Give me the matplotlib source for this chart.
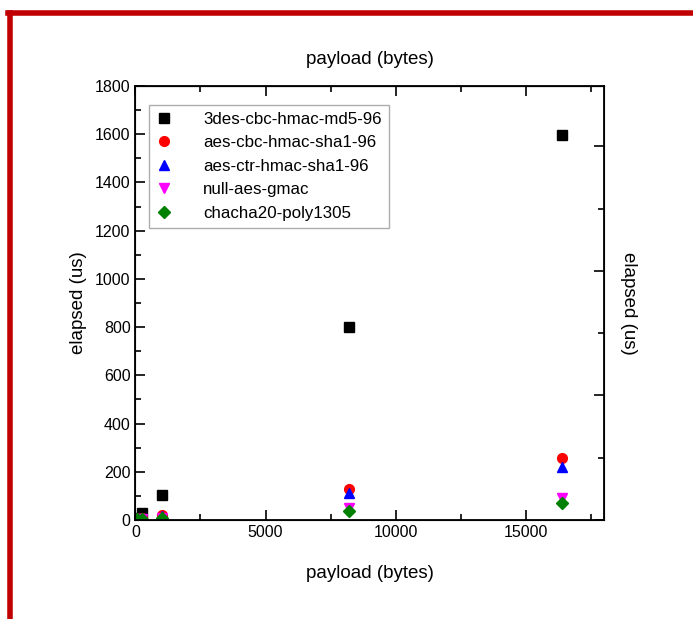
import matplotlib
matplotlib.use("Agg")
import numpy as np
from matplotlib import pyplot as plt
from matplotlib.lines import Line2D
from matplotlib.ticker import MultipleLocator

plt.rcParams['font.family'] = ['Liberation Sans', 'DejaVu Sans']

# payload sizes (bytes)
payload = [64, 256, 1024, 8192, 16384]

# elapsed time (us)
des3_md5 = [8, 28, 103, 800, 1595]
aes_cbc_sha1 = [3, 8, 22, 130, 256]
aes_ctr_sha1 = [3, 7, 18, 110, 221]
null_gmac = [2, 5, 10, 50, 92]
chacha = [2, 4, 8, 37, 71]

series = [
    ("3des-cbc-hmac-md5-96", des3_md5, "s", "black"),
    ("aes-cbc-hmac-sha1-96", aes_cbc_sha1, "o", "red"),
    ("aes-ctr-hmac-sha1-96", aes_ctr_sha1, "^", "blue"),
    ("null-aes-gmac", null_gmac, "v", "magenta"),
    ("chacha20-poly1305", chacha, "D", "green"),
]

fig = plt.figure(figsize=(6.93, 6.19), dpi=100)
ax = fig.add_axes([0.1955, 0.160, 0.6755, 0.701])

for name, vals, mk, col in series:
    ms = 6 if mk == "D" else 7
    ax.plot(payload, vals, linestyle="none", marker=mk, color=col,
            markersize=ms, label=name)

ax.set_xlim(0, 18000)
ax.set_ylim(0, 1800)
ax.xaxis.set_major_locator(MultipleLocator(5000))
ax.xaxis.set_minor_locator(MultipleLocator(2500))
ax.yaxis.set_major_locator(MultipleLocator(200))
ax.yaxis.set_minor_locator(MultipleLocator(100))
ax.tick_params(which="both", direction="in", top=True, labelsize=11.5, width=1.2)
ax.tick_params(which="major", length=7)
ax.tick_params(which="minor", length=4)
ax.tick_params(axis="y", right=False)
for s in ax.spines.values():
    s.set_linewidth(1.3)

ax.set_xlabel("payload (bytes)", fontsize=13.5, labelpad=18)
ax.set_ylabel("elapsed (us)", fontsize=13.5, labelpad=6)

top = ax.secondary_xaxis("top")
top.tick_params(which="both", labeltop=False, length=0)
top.set_xlabel("payload (bytes)", fontsize=13.5, labelpad=16)

ax2 = ax.twinx()
ax2.set_ylim(0, 1742)
ax2.yaxis.set_major_locator(MultipleLocator(500))
ax2.yaxis.set_minor_locator(MultipleLocator(250))
ax2.tick_params(which="both", direction="in", labelright=False, width=1.2)
ax2.tick_params(which="major", length=7)
ax2.tick_params(which="minor", length=4)
ax2.set_ylabel("elapsed (us)", fontsize=13.5, rotation=270, labelpad=24)

leg = ax.legend(loc="upper left", bbox_to_anchor=(0.029, 0.956), fontsize=12.2,
                frameon=True, fancybox=False, edgecolor="#999999",
                borderaxespad=0, handlelength=1.0, handletextpad=1.8,
                borderpad=0.4, labelspacing=0.5)
leg.get_frame().set_linewidth(1.0)

# red frame around the picture
fig.add_artist(Line2D([0.0145, 0.0145], [0.0, 0.979], color="#c00000",
                      linewidth=4, transform=fig.transFigure))
fig.add_artist(Line2D([0.0115, 1.0], [0.979, 0.979], color="#c00000",
                      linewidth=4, transform=fig.transFigure))

fig.savefig("out.png", dpi=100)
